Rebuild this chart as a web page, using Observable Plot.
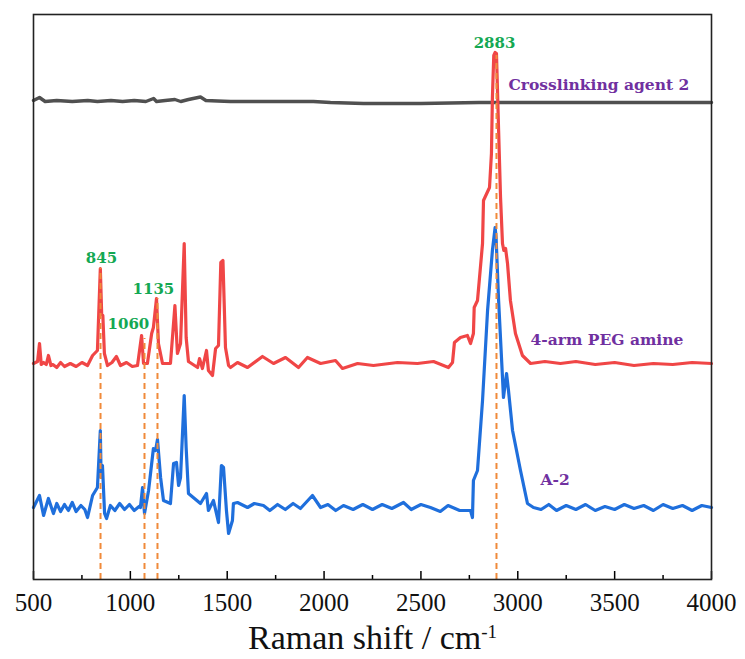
<!DOCTYPE html>
<html>
<head>
<meta charset="utf-8">
<script src="https://cdn.jsdelivr.net/npm/d3@7"></script>
<script src="https://cdn.jsdelivr.net/npm/@observablehq/plot@0.6"></script>
<style>
  html, body { margin: 0; padding: 0; background: #fff; overflow: hidden; }
  #chart { width: 745px; height: 620px; }
  #xtitle { width: 745px; height: 36px; text-align: center; font-family: "Liberation Serif", serif; font-size: 34px; line-height: 36px; color: #111; white-space: nowrap; }
  #xtitle sup { font-size: 19px; line-height: 0; position: relative; top: 1px; }
</style>
</head>
<body>
<div id="chart"></div>
<div id="xtitle">Raman shift / cm<sup>-1</sup></div>
<script>
// Raman shift (cm^-1) and offset intensity (a.u.)
const grayShift = [500,531,560,620,700,780,830,900,960,1020,1080,1120,1135,1180,1230,1260,1300,1362,1390,1450,1517,1700,1945,2033,2204,2500,2800,3000,3500,4000];
const grayInt   = [95.8,96.4,95.6,95.8,95.6,95.8,95.6,95.8,95.6,95.8,95.6,96.2,95.6,95.8,96.0,95.6,96.0,96.5,95.8,95.7,95.6,95.6,95.6,95.4,95.2,95.2,95.4,95.4,95.4,95.4];

const redShift = [500,521,531,540,552,566,577,590,600,620,640,660,690,720,750,779,805,830,845,852,858,866,882,905,928,949,980,1010,1037,1058,1068,1088,1110,1119,1135,1145,1166,1207,1230,1243,1259,1278,1288,1300,1347,1357,1372,1393,1403,1424,1440,1455,1467,1478,1491,1507,1517,1553,1605,1682,1739,1801,1868,1914,1982,2059,2095,2173,2255,2379,2482,2565,2642,2663,2673,2704,2740,2756,2771,2775,2792,2818,2823,2854,2864,2869,2876,2883,2890,2901,2911,2921,2928,2937,2947,2962,2988,3024,3066,3140,3220,3300,3400,3500,3600,3700,3800,3900,4000];
const redInt   = [43.2,43.6,47.2,43.0,43.4,43.0,44.8,42.8,43.0,42.4,43.4,42.6,43.2,42.6,43.4,42.8,44.8,45.8,62.2,53.0,52.8,45.2,42.8,43.4,44.6,42.8,43.4,42.6,42.8,48.8,43.2,43.2,49.2,50.4,56.2,47.2,43.2,43.2,54.8,45.2,47.2,67.2,48.4,43.6,42.4,44.2,42.2,45.8,41.8,40.8,46.2,46.8,63.4,63.8,46.4,42.8,42.4,43.4,42.4,44.6,43.2,44.4,42.4,44.4,43.2,43.8,42.2,43.2,42.8,43.4,43.2,43.6,42.4,43.4,47.4,48.4,48.8,47.2,49.2,54.4,55.8,67.2,75.8,78.4,85.2,96.4,104.8,105.4,105.2,89.8,76.4,67.2,65.8,66.2,63.2,55.8,49.2,44.8,43.2,43.6,43.2,43.6,43.0,43.4,42.8,43.2,43.0,43.4,43.2];

const blueShift = [500,531,552,577,603,620,640,660,680,700,720,745,765,779,805,830,845,849,856,867,877,897,920,945,970,995,1020,1045,1052,1063,1073,1094,1119,1130,1140,1156,1171,1207,1223,1238,1249,1259,1278,1288,1300,1362,1393,1403,1429,1455,1470,1481,1496,1507,1527,1532,1553,1605,1640,1687,1720,1760,1800,1840,1878,1940,1982,2020,2060,2100,2150,2200,2250,2300,2350,2410,2450,2500,2549,2600,2640,2700,2756,2766,2771,2792,2818,2844,2869,2883,2888,2901,2921,2926,2942,2952,2973,3014,3050,3081,3120,3160,3200,3250,3300,3350,3400,3450,3500,3550,3600,3650,3700,3750,3800,3850,3900,3950,4000];
const blueInt   = [14.4,16.8,12.8,16.2,13.2,15.2,13.6,15.0,13.8,15.4,13.6,14.8,14.0,12.4,16.8,18.4,29.8,20.4,22.8,13.2,12.2,14.8,13.8,15.2,14.0,15.0,13.8,14.6,14.4,18.4,13.2,17.8,26.2,25.8,28.0,20.4,15.8,15.2,23.2,23.4,18.8,20.4,36.8,26.4,17.2,15.2,17.2,13.8,15.8,11.4,22.8,22.4,13.8,9.2,11.8,15.2,15.4,14.4,15.2,14.8,13.8,15.0,14.0,15.2,14.2,16.8,14.4,15.0,13.8,14.8,14.0,15.0,14.0,15.0,14.2,15.4,14.0,15.0,14.4,13.6,14.8,13.8,13.8,12.4,19.8,21.8,35.8,53.8,65.8,70.4,68.4,55.8,40.4,36.4,41.2,37.8,29.8,21.8,15.2,14.4,14.0,15.0,13.8,14.8,14.0,15.0,13.8,14.6,14.0,15.0,14.2,14.8,13.8,15.0,14.2,14.8,13.8,14.8,14.4];

// peak markers (dashed guides)
const peakShift = [846, 1073, 1140, 2890];
const peakTop   = [62.2, 48.2, 56.2, 104.8];

// peak annotations
const peakLabels  = ["845", "1060", "1135", "2883"];
const peakLabelX  = [851, 990, 1119, 2880];
const peakLabelY  = [64.2, 51.0, 58.0, 107.2];

// series names
const seriesNames = ["Crosslinking agent 2", "4-arm PEG amine", "A-2"];
const seriesLabelX = [2952, 3066, 3117];
const seriesLabelY = [98.8, 47.8, 19.8];
const seriesColors = ["#505050", "#f04646", "#1f6fdc"];

const majorTicks = [500,1000,1500,2000,2500,3000,3500,4000];
const minorTicks = [750,1250,1750,2250,2750,3250,3750];

const zip = (xs, ys) => xs.map((x, i) => ({x, y: ys[i]}));
const gray = zip(grayShift, grayInt);
const red  = zip(redShift, redInt);
const blue = zip(blueShift, blueInt);
const peaks = peakShift.map((x, i) => ({x, top: peakTop[i]}));
const pLabels = peakLabels.map((t, i) => ({t, x: peakLabelX[i], y: peakLabelY[i]}));
const sLabels = seriesNames.map((t, i) => ({t, x: seriesLabelX[i], y: seriesLabelY[i]}));

const chart = Plot.plot({
  width: 745,
  height: 620,
  marginLeft: 33,
  marginRight: 34,
  marginTop: 14,
  marginBottom: 41,
  style: {background: "#fff", overflow: "visible"},
  x: {domain: [500, 4000]},
  y: {domain: [0, 113], axis: null},
  marks: [
    Plot.line(gray, {x: "x", y: "y", stroke: seriesColors[0], strokeWidth: 3.4}),
    Plot.line(red,  {x: "x", y: "y", stroke: seriesColors[1], strokeWidth: 3.2, strokeLinejoin: "round"}),
    Plot.line(blue, {x: "x", y: "y", stroke: seriesColors[2], strokeWidth: 3.2, strokeLinejoin: "round"}),
    Plot.ruleX(peaks, {x: "x", y1: 0, y2: "top", stroke: "#f08a3a", strokeWidth: 2, strokeDasharray: "6,4"}),
    Plot.text(pLabels, {x: "x", y: "y", text: "t", fill: "#14a853", fontSize: 15, fontWeight: "bold", fontFamily: "DejaVu Serif", textAnchor: "middle"}),
    Plot.text(sLabels, {x: "x", y: "y", text: "t", fill: "#7030a0", fontSize: 15.5, fontWeight: "bold", fontFamily: "DejaVu Serif", textAnchor: "start"}),
    Plot.axisX({ticks: minorTicks, tickSize: -4, tickFormat: () => "", label: null, strokeWidth: 1.5}),
    Plot.axisX({ticks: majorTicks, tickSize: -8, tickFormat: () => "", label: null, strokeWidth: 1.5}),
    Plot.axisX({ticks: majorTicks, tickSize: 0, tickPadding: 14, label: null, fontSize: 25, fontFamily: "Liberation Serif", tickFormat: d => String(d), fill: "#111"}),
    Plot.frame({stroke: "#222", strokeWidth: 1.6})
  ]
});
document.getElementById("chart").appendChild(chart);
</script>
</body>
</html>
